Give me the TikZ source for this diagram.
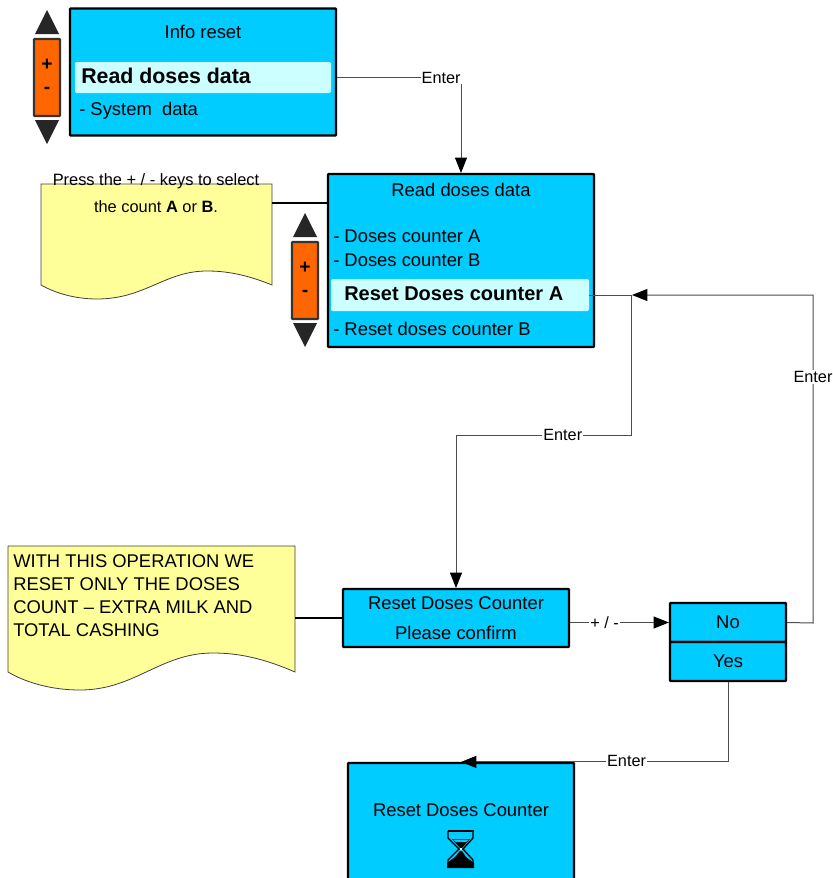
\documentclass[tikz,border=0pt]{standalone}
\usepackage{fontspec}
\setmainfont{Liberation Sans}
\usetikzlibrary{arrows.meta}
\definecolor{boxblue}{HTML}{00CCFF}
\definecolor{hilite}{HTML}{CCFFFF}
\definecolor{notey}{HTML}{FFFF99}
\definecolor{keyor}{HTML}{FF6600}
\definecolor{keydk}{HTML}{262626}
\tikzset{
  x=0.75pt,y=-0.75pt,
  bluebox/.style={draw=black,fill=boxblue,line width=1.6pt,inner sep=0pt,rounded corners=0.5pt,font=\fontsize{13.8}{16}\selectfont},
  hlbar/.style={fill=hilite,inner sep=0pt,rounded corners=1pt},
  txt/.style={inner sep=0pt,font=\fontsize{13.8}{16}\selectfont,anchor=base west},
  ctxt/.style={inner sep=0pt,font=\fontsize{13.8}{16}\selectfont,anchor=base},
  btxt/.style={inner sep=0pt,font=\fontsize{16}{18}\selectfont\bfseries,anchor=base west},
  conn/.style={draw=black!70,line width=0.75pt},
  tipconn/.style={conn,-{Triangle[length=11.5pt,width=9pt,black]}},
  notelink/.style={draw=black,line width=1.2pt},
  lab/.style={fill=white,inner sep=0.8pt,font=\fontsize{12.2}{14}\selectfont,text=black},
  noteshape/.style={draw=black!75,fill=notey,line width=0.6pt},
  spinner/.pic={
    \fill[keydk] (-12,-43.5) -- (0,-67.5) -- (12,-43.5) -- cycle;
    \fill[keydk] (-12,42.5) -- (0,66.5) -- (12,42.5) -- cycle;
    \draw[draw=black!80,fill=keyor,line width=1.6pt,rounded corners=0.5pt] (-13,-38.5) rectangle (13,38.5);
    \node[inner sep=0pt,font=\fontsize{14.5}{16}\selectfont\bfseries] (-p) at (0,-12.5) {+};
    \node[inner sep=0pt,font=\fontsize{14.5}{16}\selectfont\bfseries] (-m) at (0,12.5) {-};
  }
}
\begin{document}
\begin{tikzpicture}
\clip (0,0) rectangle (832,878);
% spinners
\pic (sa) at (47,77.5) {spinner};
\pic (sb) at (305,280.5) {spinner};
% notes
\draw[noteshape] (41,184) -- (272,184) -- (272,285) .. controls (245,274) and (225,271) .. (207,271)
  .. controls (165,271) and (145,299) .. (97,299) .. controls (75,299) and (55,293) .. (41,285) -- cycle;
\coordinate (n1c) at (272,203);
\node[inner sep=0pt,align=center,font=\fontsize{12.3}{20}\selectfont,anchor=base] (n1) at (156,212) {Press the + / - keys to select\\the count \textbf{A} or \textbf{B}.};
\draw[noteshape] (8,546) -- (295,546) -- (295,672) .. controls (265,659) and (240,653) .. (213,653)
  .. controls (160,653) and (135,690) .. (80,690) .. controls (50,690) and (25,682) .. (8,672) -- cycle;
\coordinate (n2c) at (295,618);
\node[inner sep=0pt,align=left,font=\fontsize{13.8}{17.3}\selectfont,anchor=north west] (n2) at (13,554) {WITH THIS OPERATION WE\\RESET ONLY THE DOSES\\COUNT – EXTRA MILK AND\\TOTAL CASHING};
% boxes
\node[bluebox,minimum width=266pt*0.75,minimum height=127pt*0.75] (a) at (203,72) {};
\node[hlbar,minimum width=256pt*0.75,minimum height=31pt*0.75] (hla) at (203,77.5) {};
\node[ctxt] (ta) at (203,38) {Info reset};
\node[btxt] (tb) at (81,83) {Read doses data};
\node[txt] (tc) at (79,115) {- System\ \ data};
\node[bluebox,minimum width=266pt*0.75,minimum height=173pt*0.75] (rd) at (461,260.5) {};
\node[hlbar,minimum width=258pt*0.75,minimum height=32pt*0.75] (hlb) at (460,295) {};
\node[ctxt] (td) at (461,196) {Read doses data};
\node[txt] (te) at (333,242) {- Doses counter A};
\node[txt] (tf) at (333,266) {- Doses counter B};
\node[btxt,font=\fontsize{15}{18}\selectfont\bfseries] (tg) at (344,300) {Reset Doses counter A};
\node[txt] (th) at (333,335) {- Reset doses counter B};
\node[bluebox,minimum width=226pt*0.75,minimum height=58pt*0.75,align=center,font=\fontsize{13.8}{23}\selectfont] (rs) at (456,618) {Reset Doses Counter\\Please confirm};
\node[bluebox,minimum width=116pt*0.75,minimum height=39pt*0.75] (no) at (728,622.5) {No};
\node[bluebox,minimum width=116pt*0.75,minimum height=39pt*0.75] (ye) at (728,661.5) {Yes};
\node[bluebox,minimum width=226pt*0.75,minimum height=160pt*0.75] (fin) at (461,843) {};
\node[ctxt] (ti) at (461,816) {Reset Doses Counter};
% hourglass
\draw[black,line width=1.5pt] (447.5,831) -- (473.5,831);
\draw[black,line width=1pt] (448,831) -- (448,838) -- (459,849) -- (463,849) -- (473,838) -- (473,831);
\draw[black,line width=1pt] (459,849) -- (448,860) -- (448,867);
\draw[black,line width=1pt] (463,849) -- (473,860) -- (473,867);
\fill[black] (447,868) -- (447,863) -- (455,857) -- (460,851) -- (462,851) -- (466,857) -- (474,863) -- (474,868) -- cycle;
\fill[black] (452,839) -- (470,839) -- (461,849) -- cycle;
\fill[boxblue] (453,839.5) -- (469,839.5) -- (466,842) -- (456,842) -- cycle;
\fill[white] (460,848) rectangle (462,850);
% note links
\draw[notelink] (n1c) -- (rd.west |- n1c);
\draw[notelink] (n2c) -- (rs.west);
% connectors
\coordinate (j) at (632,295);
\coordinate (c1) at (813,623);
\coordinate (c2) at (813,295);
\coordinate (c3) at (631,435);
\coordinate (c4) at (456,435);
\coordinate (c5) at (631,295);
\draw[tipconn] (a.east |- hla) -| node[lab,pos=.42] (l1) {Enter} (rd.north);
\draw[conn] (hlb.east) -- (j);
\draw[tipconn] (no.east) -- (c1) -- node[lab,pos=.75] (l2) {Enter} (c2) -- (j);
\draw[tipconn] (c5) -- (c3) -- node[lab,pos=.39] (l3) {Enter} (c4) -- (rs.north);
\draw[tipconn] (rs.east |- no) -- node[lab,pos=.35] (l4) {+ / -} (no.west);
\draw[tipconn] (ye.south) |- node[lab,pos=.69,yshift=1pt] (l5) {Enter} (fin.north);
\end{tikzpicture}
\end{document}
